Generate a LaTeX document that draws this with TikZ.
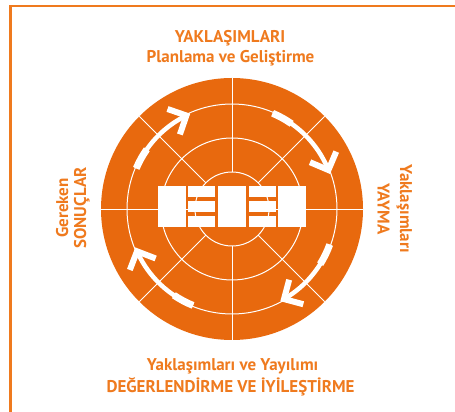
\documentclass[tikz,border=0pt]{standalone}
\usepackage{fontspec}
\setmainfont{PT Sans}
\definecolor{kurum}{HTML}{E8690E}
\definecolor{yazi}{HTML}{EF7A1E}
\tikzset{
  baslik/.style={text=yazi, font=\bfseries\fontsize{17}{17}\selectfont, inner sep=0pt},
  halka/.style={draw=white, line width=1pt},
  kol/.style={draw=white, line width=0.8pt},
  dongu/.style={draw=white, line width=4.5pt},
  kuyruk/.style={draw=white, line width=7pt},
  ucu/.style={draw=white, line width=6pt, miter limit=4},
  blok/.style={fill=white},
}
\begin{document}
\begin{tikzpicture}[x=1pt,y=1pt]
\useasboundingbox (0,0) rectangle (455,412);
% frame
\draw[yazi, line width=2.5pt] (10.7,0) -- (10.7,406) -- (455,406);

% disc
\coordinate (c) at (232,203);
\fill[kurum] (c) circle[radius=131];
\foreach \r in {105,71,37} \draw[halka] (c) circle[radius=\r];
\foreach \a in {0,45,...,315} \draw[kol] ([shift=(\a:37)]c) -- ([shift=(\a:131)]c);

% blocks in the middle
\foreach \x in {158.3,218.3,278.3} \fill[blok] (\x,185.3) rectangle ++(27.4,40.7);
\foreach \x in {188.3,249.3} {
  \fill[blok] (\x,215.3) rectangle ++(26.7,10.7);
  \fill[blok] (\x,200.3) rectangle ++(26.7,10.7);
  \fill[blok] (\x,185.3) rectangle ++(26.7,11);
}

% cycle arrows
\foreach \s/\e in {157/116, 67/22, -20/-60, 248/204} {
  \draw[kuyruk] ([shift=(\s:104)]c) arc[start angle=\s, end angle=\s-12, radius=104];
  \draw[dongu] ([shift=(\s:104)]c) arc[start angle=\s, end angle=\e+1, radius=104];
  \coordinate (uc) at ([shift=(\e:104)]c);
  \draw[ucu] (uc) ++(\e+135:20) -- (uc) -- ++(\e+45:20);
}

% labels
\node[baslik, anchor=base] (ust1) at (230,369) {YAKLAŞIMLARI};
\node[baslik, anchor=base] (ust2) at (230.5,349) {Planlama ve Geliştirme};
\node[baslik, anchor=base] (alt1) at (232.5,41.5) {Yaklaşımları ve Yayılımı};
\node[baslik, anchor=base] (alt2) at (230.5,19) {DEĞERLENDİRME VE İYİLEŞTİRME};
\node[baslik, rotate=90, anchor=base] (sol1) at (68,204) {Gereken};
\node[baslik, rotate=90, anchor=base] (sol2) at (86,204) {SONUÇLAR};
\node[baslik, rotate=-90, anchor=base] (sag1) at (400,203.5) {Yaklaşımları};
\node[baslik, rotate=-90, anchor=base] (sag2) at (377.5,203) {YAYMA};
\end{tikzpicture}
\end{document}
